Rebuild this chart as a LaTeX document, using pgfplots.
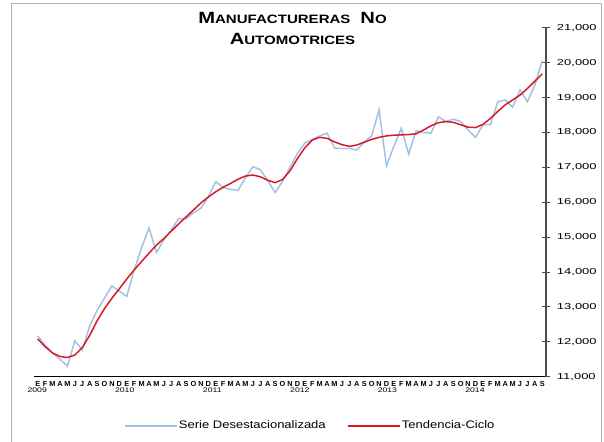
\documentclass[border=0pt]{standalone}
\usepackage{pgfplots}
\pgfplotsset{compat=1.18}
\usepackage{pgfplotstable}
\usepackage{graphicx}
\usepackage{fontspec}
\setmainfont{Liberation Sans}
\definecolor{serieblue}{RGB}{160,192,228}
\definecolor{tendred}{RGB}{218,22,30}
\newcommand\sx[2][1.2]{\scalebox{#1}[1]{#2}}
\tikzset{yearlbl/.style={anchor=base, inner sep=0pt, font=\fontsize{5}{6}\selectfont, yshift=-11.6pt}}
\pgfplotstableread{
i desest tend
0 12170 12080
1 11900 11860
2 11680 11680
3 11500 11580
4 11300 11550
5 12030 11620
6 11770 11830
7 12450 12180
8 12900 12600
9 13250 12950
10 13600 13250
11 13450 13520
12 13300 13800
13 14050 14060
14 14700 14300
15 15270 14540
16 14560 14770
17 14920 14960
18 15210 15170
19 15530 15380
20 15530 15580
21 15700 15780
22 15830 15980
23 16160 16150
24 16590 16300
25 16420 16430
26 16370 16540
27 16340 16660
28 16700 16750
29 17020 16780
30 16930 16730
31 16620 16630
32 16280 16560
33 16600 16650
34 17000 16900
35 17400 17250
36 17700 17560
37 17800 17780
38 17900 17860
39 17980 17830
40 17550 17730
41 17540 17650
42 17540 17600
43 17500 17640
44 17720 17720
45 17900 17800
46 18650 17860
47 17040 17900
48 17600 17920
49 18120 17930
50 17380 17940
51 18050 17960
52 18000 18070
53 17980 18190
54 18450 18280
55 18310 18310
56 18380 18290
57 18310 18220
58 18070 18150
59 17860 18140
60 18220 18230
61 18220 18400
62 18880 18600
63 18930 18790
64 18720 18930
65 19220 19070
66 18880 19260
67 19360 19470
68 20060 19680
}\datatable
\begin{document}
\begin{tikzpicture}
\path[use as bounding box] (0pt,0pt) rectangle (453pt,331.5pt);
\draw[gray!60, line width=0.6pt] (8.25pt,0pt) -- (8.25pt,329.25pt) -- (451.3pt,329.25pt) -- (451.3pt,0pt);
% title
\node[anchor=base, inner sep=0pt] at (219.4pt,314pt) {\sx[1.24]{\bfseries{\fontsize{12.2}{14}\selectfont M}{\fontsize{9.1}{11}\selectfont ANUFACTURERAS}\hspace{0.6em}{\fontsize{12.2}{14}\selectfont N}{\fontsize{9.1}{11}\selectfont O}}};
\node[anchor=base, inner sep=0pt] at (219.4pt,297.75pt) {\sx[1.24]{\bfseries{\fontsize{12.2}{14}\selectfont A}{\fontsize{9.1}{11}\selectfont UTOMOTRICES}}};
\begin{axis}[
  at={(25.5pt,48.98pt)}, anchor=south west,
  scale only axis, width=384pt, height=261.7pt,
  xmin=-0.5, xmax=68.5, ymin=11000, ymax=21000,
  axis x line*=bottom, axis y line*=right,
  x axis line style={black, line width=1.1pt},
  y axis line style={black!70, line width=0.8pt},
  ytick={11000,12000,...,21000},
  scaled y ticks=false,
  ytick style={black!70, line width=0.7pt},
  tick align=center, major tick length=6pt,
  /pgf/number format/.cd, fixed, 1000 sep={,}, assume math mode=true, /pgfplots/.cd,
  yticklabel={\sx[1.5]{\pgfmathprintnumber{\tick}}},
  yticklabel style={font=\fontsize{6.5}{8}\selectfont, anchor=west, inner sep=0pt, xshift=5pt},
  xtick={0,...,68},
  x tick style={draw=none},
  xticklabels={E,F,M,A,M,J,J,A,S,O,N,D,E,F,M,A,M,J,J,A,S,O,N,D,E,F,M,A,M,J,J,A,S,O,N,D,E,F,M,A,M,J,J,A,S,O,N,D,E,F,M,A,M,J,J,A,S,O,N,D,E,F,M,A,M,J,J,A,S},
  xticklabel style={font=\fontsize{5.5}{6}\selectfont\bfseries, anchor=north, inner sep=0pt, yshift=-0.3pt},
  clip=false,
  legend columns=2,
  legend style={at={(0.539,-0.141)}, anchor=center, draw=none, fill=none, inner sep=0pt,
    font=\fontsize{8.2}{10}\selectfont,
    /tikz/every even column/.append style={column sep=15pt},
    nodes={inner sep=1pt, anchor=west}},
  legend image code/.code={\draw[#1] (0pt,0pt) -- (39pt,0pt);},
]
\addplot[serieblue, line width=1.1pt] table[x=i, y=desest] {\datatable};
\addlegendentry{\sx[1.19]{Serie Desestacionalizada}}
\addplot[tendred, line width=1.1pt] table[x=i, y=tend] {\datatable};
\addlegendentry{\sx[1.19]{Tendencia-Ciclo}}
\node[yearlbl] at (axis cs:-0.07,11000) {\sx[1.3]{2009}};
\node[yearlbl] at (axis cs:11.73,11000) {\sx[1.3]{2010}};
\node[yearlbl] at (axis cs:23.53,11000) {\sx[1.3]{2011}};
\node[yearlbl] at (axis cs:35.33,11000) {\sx[1.3]{2012}};
\node[yearlbl] at (axis cs:47.13,11000) {\sx[1.3]{2013}};
\node[yearlbl] at (axis cs:58.93,11000) {\sx[1.3]{2014}};
\end{axis}
\end{tikzpicture}
\end{document}
